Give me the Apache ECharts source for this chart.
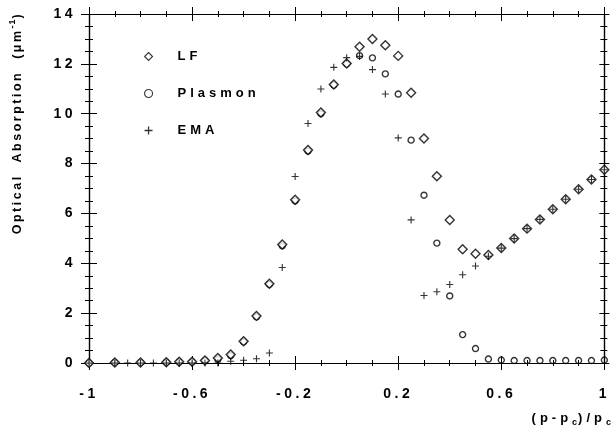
<!DOCTYPE html>
<html><head><meta charset="utf-8">
<script src="https://cdn.jsdelivr.net/npm/echarts@6/dist/echarts.min.js"></script>
<style>html,body{margin:0;padding:0;background:#fff}#c{width:613px;height:429px}</style>
</head><body><div id="c"></div>
<script>
// ---- data ----
const xLF = [-1,-0.9,-0.8,-0.7,-0.65,-0.6,-0.55,-0.5,-0.45,-0.4,-0.35,-0.3,-0.25,-0.2,-0.15,-0.1,-0.05,0,0.05,0.1,0.15,0.2,0.25,0.3,0.35,0.4,0.45,0.5,0.55,0.6,0.65,0.7,0.75,0.8,0.85,0.9,0.95,1];
const lfValues = [0,0.02,0.02,0.03,0.05,0.05,0.1,0.2,0.34,0.87,1.89,3.18,4.75,6.55,8.54,10.05,11.17,12.01,12.69,13.0,12.75,12.32,10.84,9.01,7.49,5.74,4.56,4.38,4.33,4.61,4.99,5.39,5.76,6.17,6.57,6.97,7.36,7.75];
const plasmonValues = [0,0.02,0.02,0.03,0.05,0.05,0.1,0.15,0.3,0.85,1.85,3.15,4.7,6.5,8.5,10.0,11.15,12.0,12.33,12.24,11.6,10.79,8.94,6.73,4.81,2.69,1.14,0.58,0.16,0.12,0.1,0.1,0.1,0.1,0.1,0.1,0.1,0.12];
const xEMA = [-1,-0.9,-0.85,-0.8,-0.75,-0.7,-0.65,-0.6,-0.55,-0.5,-0.45,-0.4,-0.35,-0.3,-0.25,-0.2,-0.15,-0.1,-0.05,0,0.05,0.1,0.15,0.2,0.25,0.3,0.35,0.4,0.45,0.5,0.55,0.6,0.65,0.7,0.75,0.8,0.85,0.9,0.95,1];
const emaValues = [0,0,0,0,0,0,0,0,0,0,0.07,0.11,0.17,0.4,3.83,7.48,9.61,10.99,11.86,12.25,12.3,11.77,10.79,9.03,5.74,2.71,2.86,3.15,3.54,3.89,4.28,4.61,4.99,5.39,5.76,6.17,6.57,6.97,7.36,7.75];
const seriesNames = ['LF','Plasmon','EMA'];
const xTickLabels = ['-1','-0.6','-0.2','0.2','0.6','1'];
const yTickLabels = ['0','2','4','6','8','10','12','14'];
const yTitle = ['Optical  Absorption  (μm', '-1', ')'];
const xTitle = ['(p-p', 'c', ')/p', 'c'];

// ---- letter spacing emulation (tracking of the original typesetting) ----
const LS = {'14': 3.5, '13': 4, '12.5': 2.5, '9': 1};
function spacingFor(font){ const m = /(\d+(?:\.\d+)?)px/.exec(font || ''); return ((m && LS[m[1]]) || 0) + 'px'; }
(function(){
  const p = CanvasRenderingContext2D.prototype;
  if (!('letterSpacing' in p)) return;
  const oF = p.fillText, oM = p.measureText, oS = p.strokeText;
  p.fillText = function(){ this.letterSpacing = spacingFor(this.font); const r = oF.apply(this, arguments); this.letterSpacing = '0px'; return r; };
  p.strokeText = function(){ this.letterSpacing = spacingFor(this.font); const r = oS.apply(this, arguments); this.letterSpacing = '0px'; return r; };
  p.measureText = function(){ this.letterSpacing = spacingFor(this.font); const r = oM.apply(this, arguments); this.letterSpacing = '0px'; return r; };
})();

const FF = "'Liberation Sans', Arial, Helvetica, sans-serif";
const BLACK = '#000';
const lineStyle = {color: BLACK, width: 1.2};

function makeX(pos, inside, labels, major, minor){
  return {
    type: 'value', position: pos, min: -1, max: 1, interval: 0.4,
    axisLine: {show: true, onZero: false, lineStyle: lineStyle},
    axisTick: {show: true, inside: inside, length: major, lineStyle: {color: BLACK, width: 1}},
    minorTick: {show: true, splitNumber: 4, length: minor, lineStyle: {color: BLACK, width: 1}},
    splitLine: {show: false}, minorSplitLine: {show: false},
    axisLabel: labels ? {show: true, margin: 22, fontSize: 14, fontWeight: 'bold', fontFamily: FF, color: BLACK,
      formatter: (v, i) => xTickLabels[i]} : {show: false}
  };
}
function makeY(pos, inside, labels, major, minor){
  return {
    type: 'value', position: pos, min: 0, max: 14, interval: 2,
    axisLine: {show: true, onZero: false, lineStyle: lineStyle},
    axisTick: {show: true, inside: inside, length: major, lineStyle: {color: BLACK, width: 1}},
    minorTick: {show: true, splitNumber: 4, length: minor, lineStyle: {color: BLACK, width: 1}},
    splitLine: {show: false}, minorSplitLine: {show: false},
    axisLabel: labels ? {show: true, margin: 13, fontSize: 14, fontWeight: 'bold', fontFamily: FF, color: BLACK,
      formatter: (v, i) => yTickLabels[i]} : {show: false}
  };
}

const PLUS = 'path://M4.2,0H5.8V4.2H10V5.8H5.8V10H4.2V5.8H0V4.2H4.2Z';

const chart = echarts.init(document.getElementById('c'), null, {renderer: 'canvas'});
chart.setOption({
  animation: false,
  backgroundColor: '#fff',
  grid: {left: 89, right: 6, top: 14, bottom: 66, containLabel: false},
  xAxis: [makeX('bottom', true, true, 7, 3), makeX('bottom', false, false, 7, 3),
          makeX('top', true, false, 7, 3), makeX('top', false, false, 7, 3)],
  yAxis: [makeY('left', true, true, 8, 4), makeY('left', false, false, 8, 4),
          makeY('right', true, false, 5, 4), makeY('right', false, false, 5, 3)],
  legend: {
    orient: 'vertical', left: 139, top: 43, itemGap: 20, itemWidth: 8, itemHeight: 8,
    data: seriesNames,
    itemStyle: {borderWidth: 1.1},
    textStyle: {fontSize: 13, fontWeight: 'bold', fontFamily: FF, color: BLACK, padding: [0, 0, 0, 20]}
  },
  graphic: [
    {type: 'text', x: 18, y: 123, rotation: Math.PI / 2,
     style: {text: '{t|' + yTitle[0] + '}{s|' + yTitle[1] + '}{t|' + yTitle[2] + '}', align: 'center', verticalAlign: 'middle',
       rich: {t: {fontSize: 12.5, fontWeight: 'bold', fontFamily: FF, fill: BLACK, lineHeight: 20, verticalAlign: 'middle'},
              s: {fontSize: 9, fontWeight: 'bold', fontFamily: FF, fill: BLACK, lineHeight: 9, verticalAlign: 'top'}}}},
    {type: 'text', x: 612, y: 418,
     style: {text: '{t|' + xTitle[0] + '}{s|' + xTitle[1] + '}{t|' + xTitle[2] + '}{s|' + xTitle[3] + '}', align: 'right', verticalAlign: 'middle',
       rich: {t: {fontSize: 13, fontWeight: 'bold', fontFamily: FF, fill: BLACK, lineHeight: 20, verticalAlign: 'middle'},
              s: {fontSize: 9, fontWeight: 'bold', fontFamily: FF, fill: BLACK, lineHeight: 9, verticalAlign: 'bottom'}}}}
  ],
  series: [
    {name: seriesNames[1], type: 'scatter', xAxisIndex: 0, yAxisIndex: 0, symbol: 'circle', symbolSize: 6,
     itemStyle: {color: 'rgba(255,255,255,0)', borderColor: BLACK, borderWidth: 1.4},
     data: xLF.map((x, i) => [x, plasmonValues[i]]), z: 2},
    {name: seriesNames[0], type: 'scatter', xAxisIndex: 0, yAxisIndex: 0, symbol: 'diamond', symbolSize: 9,
     itemStyle: {color: '#fff', borderColor: BLACK, borderWidth: 1.4},
     data: xLF.map((x, i) => [x, lfValues[i]]), z: 3},
    {name: seriesNames[2], type: 'scatter', xAxisIndex: 0, yAxisIndex: 0, symbol: PLUS, symbolSize: 7,
     itemStyle: {color: BLACK, borderWidth: 0}, data: xEMA.map((x, i) => [x, emaValues[i]]), z: 4}
  ]
});
</script>
</body></html>
